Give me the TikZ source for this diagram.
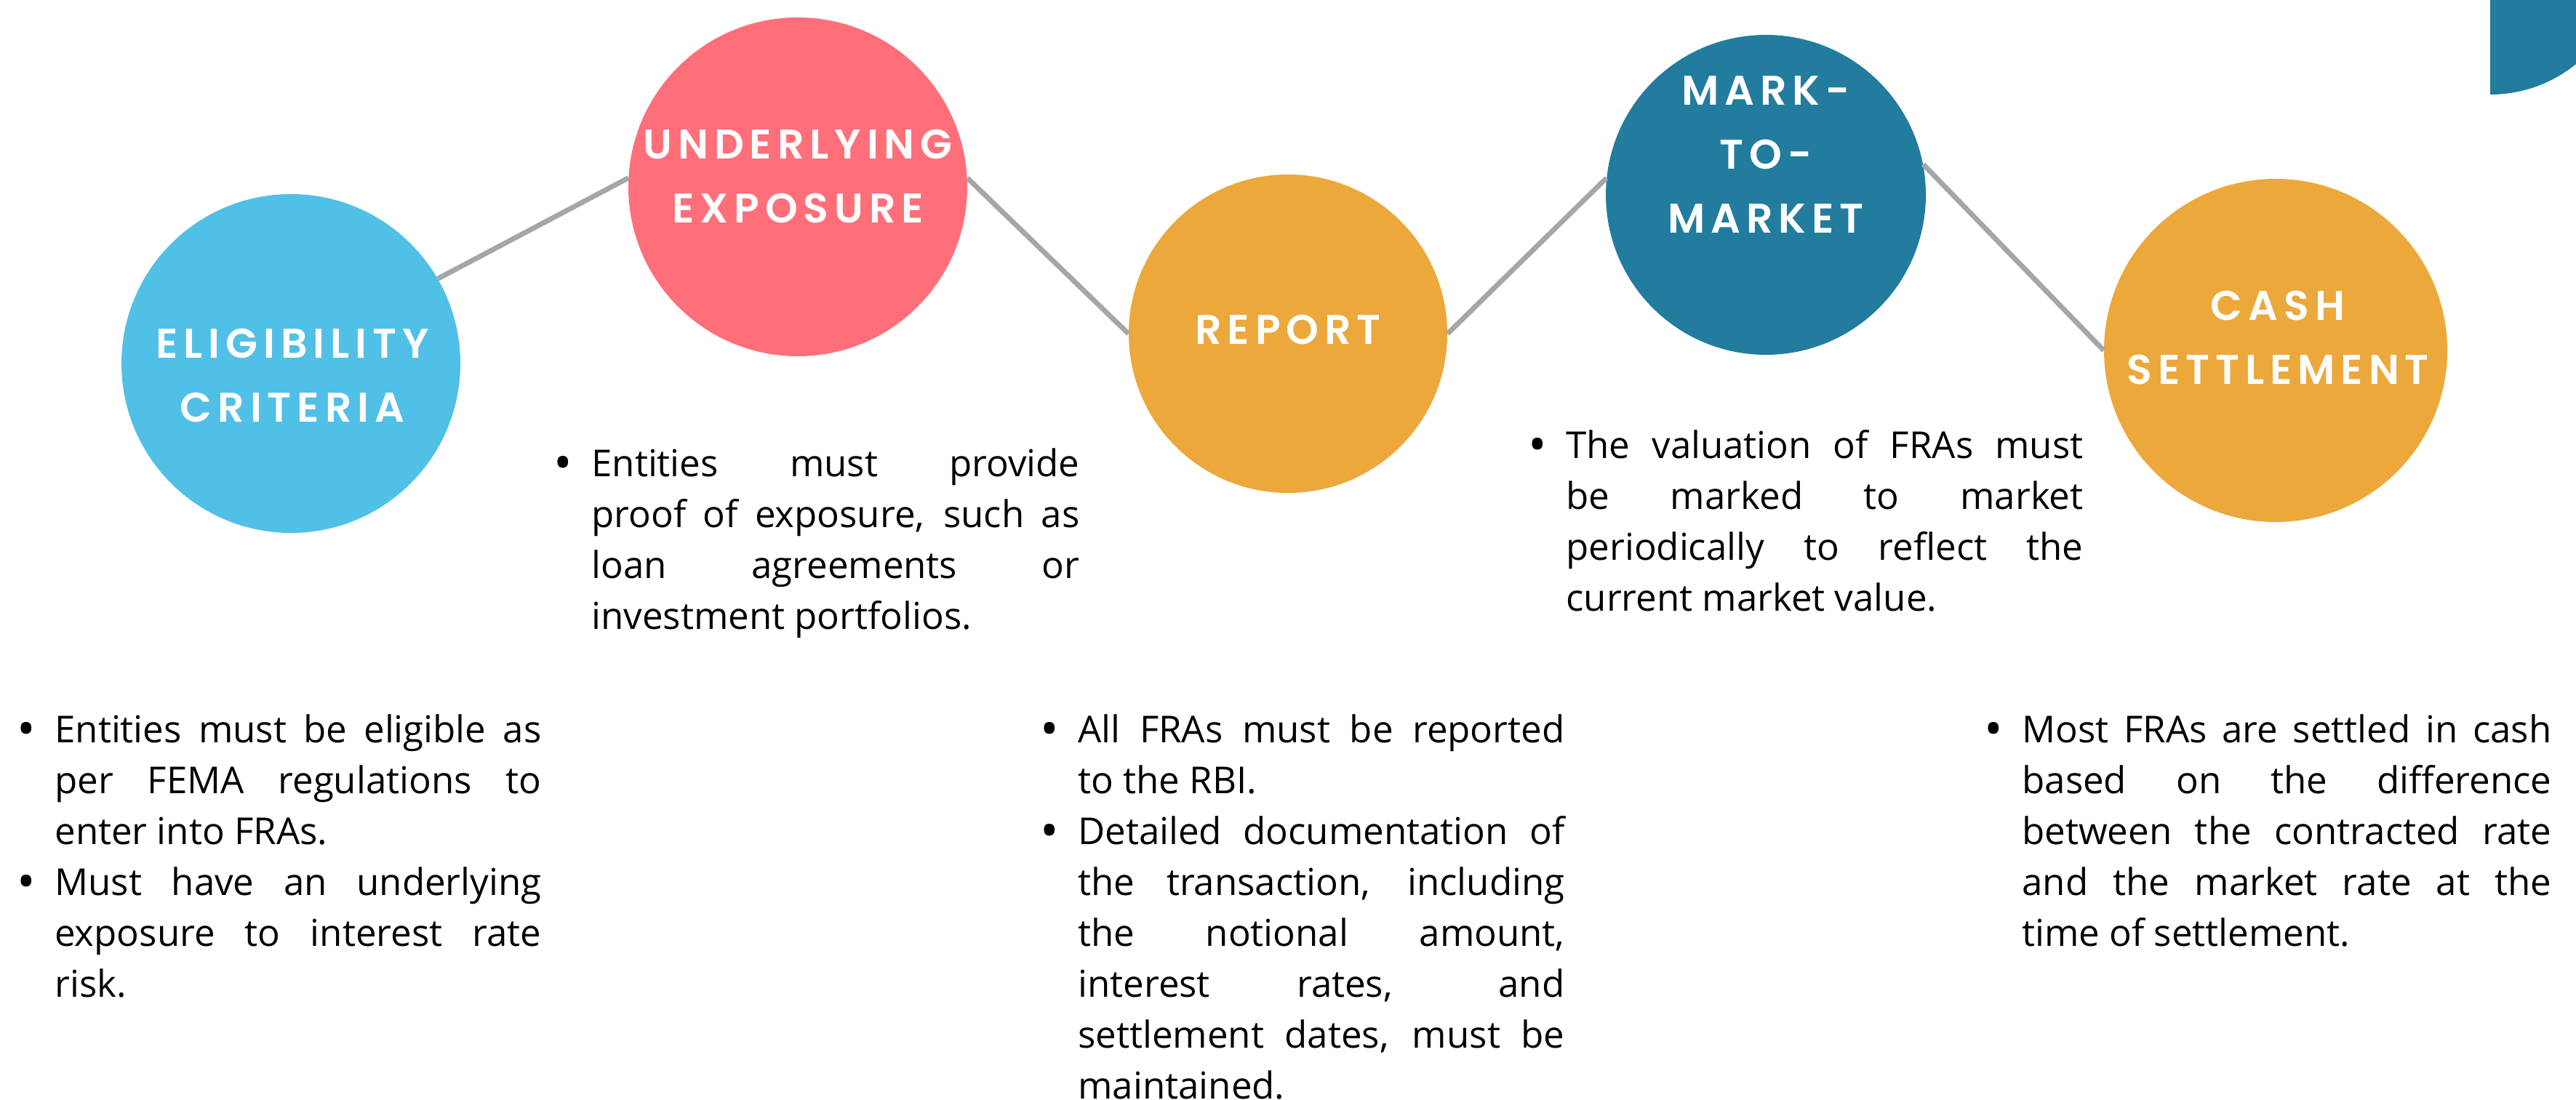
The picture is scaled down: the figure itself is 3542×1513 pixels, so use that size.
\documentclass[tikz,border=0pt]{standalone}
\usepackage{fontspec}
\usepackage{enumitem}
\setmainfont{Open Sans}
\newfontfamily\headfont{Poppins SemiBold}[LetterSpace=14]
\definecolor{skyblue}{HTML}{51C0E7}
\definecolor{coral}{HTML}{FF6F79}
\definecolor{amber}{HTML}{ECA83B}
\definecolor{deepteal}{HTML}{227C9D}
\definecolor{link}{HTML}{A6A6A6}
\tikzset{
  bubble/.style={circle, inner sep=0pt, draw=none},
  head/.style={text=white, font=\headfont\fontsize{28.5}{44}\selectfont, align=center, inner sep=0pt},
  note/.style={anchor=base west, inner sep=0pt, font=\fontsize{25.5}{35}\selectfont, align=justify},
  wire/.style={draw=link, line width=3.5pt},
}
\newcommand{\dotmark}{\raisebox{-2.6pt}{\fontsize{34}{34}\selectfont\textbullet}}
\newcommand{\notelist}[1]{\tolerance=10000\hyphenpenalty=10000\exhyphenpenalty=10000
  \begin{itemize}[label=\dotmark, leftmargin=30pt, labelsep=13pt, itemsep=0pt, topsep=0pt, parsep=0pt, partopsep=0pt]#1\end{itemize}}

\begin{document}
\begin{tikzpicture}[x=0.5pt, y=-0.5pt]
  \useasboundingbox (0,0) rectangle (3542,1513);

  % corner mark
  \begin{scope}
    \clip (3424,0) rectangle (3542,300);
    \fill[deepteal] (3424,-57) circle[radius=187];
  \end{scope}

  % steps
  \node[bubble, fill=skyblue, minimum size=233pt] (elig) at (400,500) {};
  \node[bubble, fill=coral, minimum size=233pt] (under) at (1097,257) {};
  \node[bubble, fill=amber, minimum size=219pt] (report) at (1771,459) {};
  \node[bubble, fill=deepteal, minimum size=220pt] (mtm) at (2428,268) {};
  \node[bubble, fill=amber, minimum size=236pt] (cash) at (3129,482) {};

  \draw[wire] (elig.30) -- (under.177);
  \draw[wire] (under.3) -- (report.west);
  \draw[wire] (report.east) -- (mtm.174);
  \draw[wire] (mtm.11) -- (cash.west);

  \node[head] (eligtxt) at (402,517) {ELIGIBILITY\\CRITERIA};
  \node[head] (undertxt) at (1097,243) {UNDERLYING\\EXPOSURE};
  \node[head] (reporttxt) at (1771,454) {REPORT};
  \node[head] (mtmtxt) at (2428,213) {MARK-\\TO-\\MARKET};
  \node[head] (cashtxt) at (3132,465) {CASH\\SETTLEMENT};

  % notes
  \node[note, text width=364.5pt] (elignote) at (15,951) {\notelist{%
    \item Entities must be eligible as\linebreak per FEMA regulations to\linebreak enter into FRAs.
    \item Must have an underlying\linebreak exposure to interest rate\linebreak risk.}};
  \node[note, text width=365.5pt] (undernote) at (753,585) {\notelist{%
    \item Entities must provide\linebreak proof of exposure, such as\linebreak loan agreements or\linebreak investment portfolios.}};
  \node[note, text width=364.5pt] (reportnote) at (1422,951) {\notelist{%
    \item All FRAs must be reported\linebreak to the RBI.
    \item Detailed documentation of\linebreak the transaction, including\linebreak the notional amount,\linebreak interest rates, and\linebreak settlement dates, must be\linebreak maintained.}};
  \node[note, text width=385.5pt] (mtmnote) at (2093,560) {\notelist{%
    \item The valuation of FRAs must\linebreak be marked to market\linebreak periodically to reflect the\linebreak current market value.}};
  \node[note, text width=394pt] (cashnote) at (2720,951) {\notelist{%
    \item Most FRAs are settled in cash\linebreak based on the difference\linebreak between the contracted rate\linebreak and the market rate at the\linebreak time of settlement.}};
\end{tikzpicture}
\end{document}
